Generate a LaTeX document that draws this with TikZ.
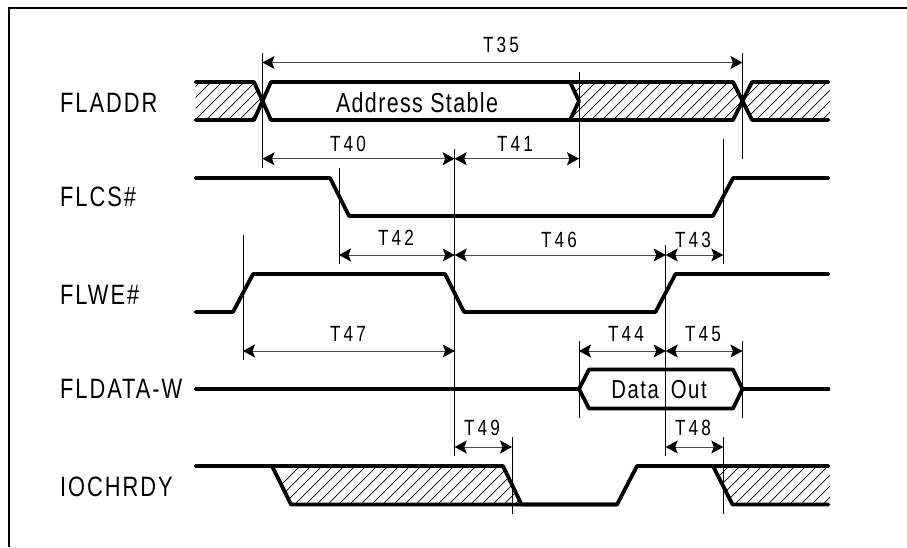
\documentclass[tikz,border=0pt]{standalone}
\usepackage{fontspec}
\setmainfont{Liberation Sans}[FakeStretch=0.78,LetterSpace=7]
\usepackage{xcolor}
\usetikzlibrary{arrows.meta, positioning}

\begin{document}
\begin{tikzpicture}[
    x=1pt, y=-1pt,
    >={Stealth[black,length=12pt,width=13pt,inset=2.5pt]},
    signame/.style={inner sep=0pt, text height=19.3pt, text depth=0pt, font=\fontsize{28}{28}\selectfont, anchor=west},
    tlabel/.style={inner sep=0pt, text height=15pt, text depth=0pt, font=\fontsize{22}{22}\selectfont\addfontfeature{LetterSpace=14}},
    wavetext/.style={inner sep=0pt, text height=18pt, text depth=0pt},
    wave/.style={line width=3.8pt, line cap=round, line join=round},
    tick/.style={line width=0.8pt},
    dim/.style={<->, line width=0.9pt, black!70},
    hatchline/.style={line width=0.7pt}
]
\useasboundingbox (0,0) rectangle (907,547);

% frame
\draw[line width=2pt] (9,547) -- (9,7.5) -- (907,7.5);

% signal names
\node[signame] (fladdr) at (60,103) {FLADDR};
\node[signame, below=94pt of fladdr.west, anchor=west] (flcs) {FLCS\#};
\node[signame, below=98pt of flcs.west, anchor=west] (flwe) {FLWE\#};
\node[signame, below=94pt of flwe.west, anchor=west] (fldata) {FLDATA-W};
\node[signame, below=98pt of fldata.west, anchor=west] (iochrdy) {IOCHRDY};

% hatched parts
\begin{scope}
\clip (195.5,82) -- (254,82) -- (262.5,101) -- (254,120) -- (195.5,120) -- cycle
      (579,101) -- (570,82) -- (733,82) -- (742.5,101) -- (733,120) -- (570,120) -- cycle
      (742.5,101) -- (752,82) -- (830,82) -- (830,120) -- (752,120) -- cycle;
\foreach \hx in {200,211,...,870}
    \draw[hatchline] (\hx,82) -- (\hx-38,120);
\end{scope}
\begin{scope}
\clip (272,466) -- (503,466) -- (521.5,504.5) -- (291,504.5) -- cycle
      (713,466) -- (830,466) -- (830,504.5) -- (732.5,504.5) -- cycle;
\foreach \hx in {300,311,...,870}
    \draw[hatchline] (\hx,466) -- (\hx-38.5,504.5);
\end{scope}

% waveforms
\draw[wave] (195.5,82) -- (254,82) -- (271,120) -- (570,120) -- (579,101) -- (570,82) -- (271,82) -- (254,120) -- (195.5,120);
\draw[wave] (570,82) -- (733,82) -- (752,120) -- (828.5,120);
\draw[wave] (570,120) -- (733,120) -- (752,82) -- (828.5,82);
\draw[wave] (195.5,178) -- (330,178) -- (349,216) -- (713,216) -- (733,178) -- (828.5,178);
\draw[wave] (195.5,312) -- (233,312) -- (253,274) -- (445,274) -- (464,312) -- (655.5,312) -- (675.5,274) -- (828.5,274);
\draw[wave] (195.5,389) -- (579,389) -- (589,369.5) -- (733,369.5) -- (742.5,389) -- (733,408.5) -- (589,408.5) -- (579,389);
\draw[wave] (742.5,389) -- (828.5,389);
\draw[wave] (195.5,466) -- (503,466) -- (521.5,504.5) -- (617,504.5) -- (637,466) -- (828.5,466);
\draw[wave] (272,466) -- (291,504.5) -- (617,504.5);
\draw[wave] (713,466) -- (732.5,504.5) -- (828.5,504.5);

% text inside the waves
\node[wavetext, font=\fontsize{27.5}{27.5}\selectfont\addfontfeature{LetterSpace=5}] (stable) at (417,103) {Address Stable};
\node[wavetext, font=\fontsize{26}{26}\selectfont\addfontfeature{LetterSpace=6}] (dataout) at (659,389) {Data\hspace{12pt}Out};

% ticks
\coordinate (a1) at (262.5,53);   \coordinate (a2) at (262.5,168);
\coordinate (b1) at (742.5,53);   \coordinate (b2) at (742.5,159);
\coordinate (c1) at (579,72);     \coordinate (c2) at (579,168);
\coordinate (d1) at (454.7,149);  \coordinate (d2) at (454.7,456);
\coordinate (e1) at (339,168);    \coordinate (e2) at (339,264);
\coordinate (f1) at (243,235);    \coordinate (f2) at (243,360);
\coordinate (g1) at (723.3,139);  \coordinate (g2) at (723.3,264);
\coordinate (h1) at (665.7,245);  \coordinate (h2) at (665.7,456);
\coordinate (i1) at (579,341);    \coordinate (i2) at (579,418);
\coordinate (j1) at (742.5,341);  \coordinate (j2) at (742.5,418);
\coordinate (k1) at (512,437);    \coordinate (k2) at (512,514);
\coordinate (l1) at (723.3,437);  \coordinate (l2) at (723.3,514);
\foreach \tk in {a,b,c,d,e,f,g,h,i,j,k,l}
    \draw[tick] (\tk1) -- (\tk2);

% arrows
\draw[dim] (262.5,62.5) -- (742.5,62.5);
\draw[dim] (262.5,158.7) -- (454.7,158.7);
\draw[dim] (454.7,158.7) -- (579,158.7);
\draw[dim] (339,255) -- (454.7,255);
\draw[dim] (454.7,255) -- (665.7,255);
\draw[dim] (665.7,255) -- (723.3,255);
\draw[dim] (243,351) -- (454.7,351);
\draw[dim] (579,351) -- (665.7,351);
\draw[dim] (665.7,351) -- (742.5,351);
\draw[dim] (454.7,447) -- (512,447);
\draw[dim] (665.7,447) -- (723.3,447);

% labels of the arrows
\node[tlabel] (t35) at (501,45) {T35};
\node[tlabel] (t40) at (348,144) {T40};
\node[tlabel] (t41) at (515,144) {T41};
\node[tlabel] (t42) at (396,238) {T42};
\node[tlabel] (t46) at (559,240) {T46};
\node[tlabel] (t43) at (693,240) {T43};
\node[tlabel] (t47) at (348,333.5) {T47};
\node[tlabel] (t44) at (626,333.5) {T44};
\node[tlabel] (t45) at (703,333.5) {T45};
\node[tlabel] (t49) at (482,427.5) {T49};
\node[tlabel] (t48) at (693,427.5) {T48};

\end{tikzpicture}
\end{document}
